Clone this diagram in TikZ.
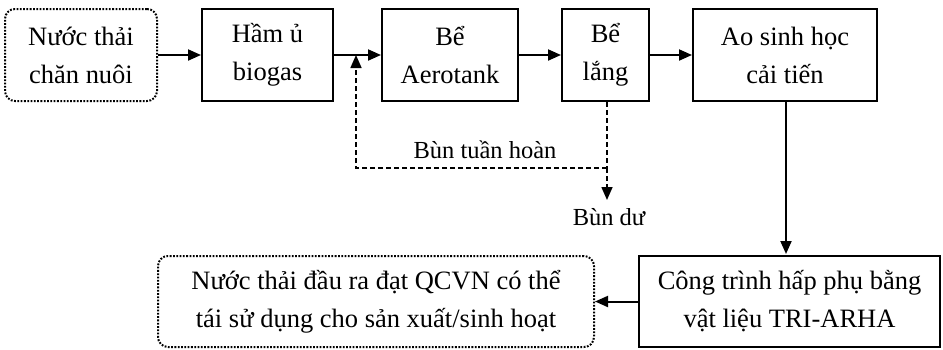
\documentclass[tikz,border=0pt]{standalone}
\usepackage{fontspec}
\setmainfont{Liberation Serif}
\usetikzlibrary{arrows.meta}

\begin{document}
\begin{tikzpicture}[x=1pt, y=-1pt,
    font=\fontsize{26.5}{38}\selectfont,
    >={Triangle[length=13pt,width=11pt]},
    box/.style={draw, line width=2pt, align=center, minimum height=92pt, inner sep=0pt},
    endbox/.style={box, rounded corners=10pt, dash pattern=on 1.8pt off 1.5pt},
    flow/.style={->, line width=2pt},
    sludge/.style={line width=1.6pt, dash pattern=on 5pt off 3pt},
    lbl/.style={font=\fontsize{24.5}{30}\selectfont}]
    \useasboundingbox (0,0) rectangle (943,349);

    \node[endbox, minimum width=152pt] (A) at (81,55) {Nước thải\\chăn nuôi};
    \node[box, minimum width=131pt] (B) at (267.5,55) {Hầm ủ\\biogas};
    \node[box, minimum width=136pt] (C) at (450,55) {Bể\\Aerotank};
    \node[box, minimum width=87pt] (D) at (605.5,55) {Bể\\lắng};
    \node[box, minimum width=184pt] (E) at (785,55) {Ao sinh học\\cải tiến};
    \node[box, minimum width=301pt, minimum height=91pt] (F) at (789.5,301.5) {Công trình hấp phụ bằng\\vật liệu TRI-ARHA};
    \node[endbox, minimum width=436pt, minimum height=91pt] (G) at (376,301.5) {Nước thải đầu ra đạt QCVN có thể\\tái sử dụng cho sản xuất/sinh hoạt};

    \draw[flow] (A) -- (B);
    \draw[flow] (B) -- (C);
    \draw[flow] (C) -- (D);
    \draw[flow] (D) -- (E);
    \draw[flow] (E.south -| F.north) ++(-3.5,0) -- ++(0,152);
    \draw[flow] (F) -- (G);

    % bun tuan hoan / bun du
    \coordinate (split) at (356,55);
    \coordinate (bend) at (356,168);
    \coordinate (du) at (607,200);
    \draw[sludge] (D.south -| du) -- (bend -| du);
    \draw[sludge, ->] (bend -| du) -- (du);
    \draw[sludge, ->] (bend -| du) -- (bend) -- (split);
    \node[lbl] (tuanhoan) at (485,150) {Bùn tuần hoàn};
    \node[lbl] (budu) at (609,217) {Bùn dư};
\end{tikzpicture}
\end{document}
